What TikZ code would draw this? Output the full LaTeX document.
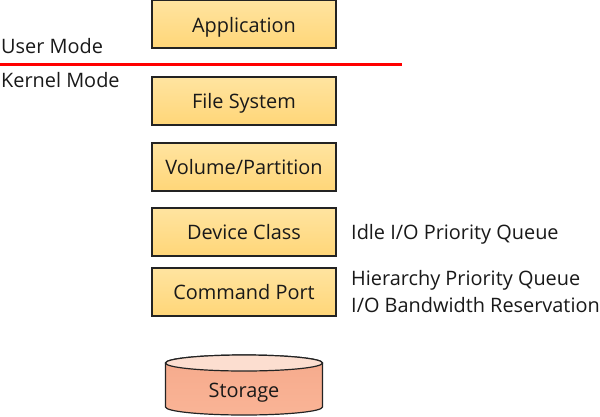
\documentclass[tikz,border=0pt]{standalone}
\usepackage{fontspec}
\setmainfont{Open Sans}
\definecolor{boxtop}{RGB}{255,228,160}
\definecolor{boxbot}{RGB}{255,214,120}
\definecolor{boxline}{RGB}{35,35,35}
\definecolor{cyltop}{RGB}{245,170,140}
\definecolor{cylbot}{RGB}{250,180,150}
\definecolor{cylend}{RGB}{252,222,208}
\definecolor{txt}{RGB}{25,25,25}
\newcommand{\lowered}[2]{\raisebox{-#1pt}[0pt][0pt]{#2}}
\tikzset{x=1pt,y=-1pt,
 txtfont/.style={text=txt,font=\fontsize{19.9}{22}\selectfont},
 layerbox/.style={draw=boxline,line width=1.2pt,top color=boxtop,bottom color=boxbot,minimum width=184pt,minimum height=48pt,inner sep=0pt,txtfont},
 lbl/.style={anchor=base west,inner sep=0pt,txtfont},
 cylbody/.style={draw=boxline,line width=1.2pt,top color=cyltop,bottom color=cylbot},
 cylcap/.style={draw=boxline,line width=1.2pt,fill=cylend}}
\begin{document}
\begin{tikzpicture}
\useasboundingbox (0,0) rectangle (600,416);
\node[layerbox] (app) at (244,24) {\lowered{8}{Application}};
\node[layerbox] (fs) at (244,101) {\lowered{7}{File System}};
\node[layerbox] (vol) at (244,167) {\lowered{7}{Volume/Partition}};
\node[layerbox] (dev) at (244,232) {\lowered{7}{Device Class}};
\node[layerbox] (cmd) at (244,292) {\lowered{7}{Command Port}};
\path[cylbody] (165.5,363) -- (165.5,407) arc[x radius=78.5,y radius=8,start angle=180,end angle=0] -- (322.5,363) arc[x radius=78.5,y radius=8,start angle=0,end angle=-180] -- cycle;
\path[cylcap] (244,363) ellipse[x radius=78.5,y radius=8];
\node[inner sep=0pt,txtfont] (st) at (244,390) {\lowered{7}{Storage}};
\coordinate (l) at (0,64);
\coordinate (r) at (402,64);
\draw[red,line width=3pt] (l) -- (r);
\node[lbl] (um) at (1,53) {User Mode};
\node[lbl] (km) at (1,87.5) {Kernel Mode};
\node[lbl] (q1) at (351,239) {Idle I/O Priority Queue};
\node[lbl] (q2) at (351,285) {Hierarchy Priority Queue};
\node[lbl] (q3) at (351,312.5) {I/O Bandwidth Reservation};
\end{tikzpicture}
\end{document}
